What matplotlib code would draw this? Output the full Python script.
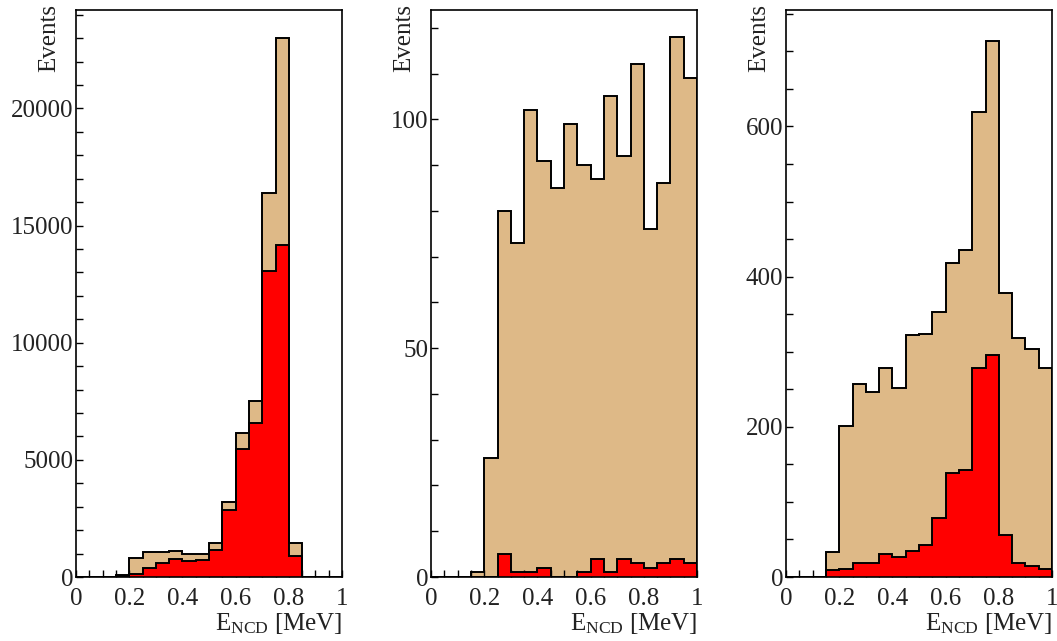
import matplotlib
matplotlib.use("Agg")
import matplotlib.pyplot as plt
import numpy as np
from matplotlib.ticker import MultipleLocator

plt.rcParams['font.family'] = ['Liberation Serif', 'DejaVu Serif']
plt.rcParams['mathtext.fontset'] = 'custom'
plt.rcParams['mathtext.rm'] = 'Liberation Serif'
plt.rcParams['mathtext.default'] = 'regular'

# bin edges (MeV), 20 bins of 0.05
bin_edges = [round(0.05 * i, 2) for i in range(21)]

# Panel 1
total1 = [0, 0, 0, 70, 806, 1050, 1050, 1103, 981, 981, 1454, 3205, 6147, 7495, 16390, 23000, 1454, 0, 0, 0]
red1 = [0, 0, 0, 35, 140, 403, 595, 770, 665, 718, 1156, 2855, 5482, 6567, 13065, 14150, 876, 0, 0, 0]

# Panel 2
total2 = [0, 0, 0, 1, 26, 80, 73, 102, 91, 85, 99, 90, 87, 105, 92, 112, 76, 86, 118, 109]
red2 = [0, 0, 0, 0, 0, 5, 1, 1, 2, 0, 0, 1, 4, 1, 4, 3, 2, 3, 4, 3]

# Panel 3
total3 = [0, 0, 0, 33, 201, 257, 247, 278, 252, 322, 324, 353, 418, 435, 619, 714, 378, 318, 303, 278]
red3 = [0, 0, 0, 9, 10, 18, 18, 30, 27, 35, 43, 79, 139, 143, 278, 295, 56, 18, 14, 11]

x_ticks = [0, 0.2, 0.4, 0.6, 0.8, 1.0]
x_ticklabels = ['0', '0.2', '0.4', '0.6', '0.8', '1']

panels = [
    dict(total=total1, red=red1, ylim=24200, minor=1000,
         yticks=[0, 5000, 10000, 15000, 20000]),
    dict(total=total2, red=red2, ylim=123.9, minor=10,
         yticks=[0, 50, 100]),
    dict(total=total3, red=red3, ylim=755, minor=50,
         yticks=[0, 200, 400, 600]),
]

W, H = 1057, 641
fig = plt.figure(figsize=(W / 100, H / 100), dpi=100)
lefts = [76, 431, 786]
aw = 266
top_px, bot_px = 10, 577

tan = '#DEB987'
red = '#FF0000'
fs = 18

for left, p in zip(lefts, panels):
    ax = fig.add_axes([left / W, (H - bot_px) / H, aw / W, (bot_px - top_px) / H])
    edges = np.array(bin_edges)
    ax.stairs(p['total'], edges, fill=True, color=tan, zorder=1)
    ax.stairs(p['red'], edges, fill=True, color=red, zorder=2)
    ax.stairs(p['red'], edges, color='black', linewidth=1.4, zorder=3)
    ax.stairs(p['total'], edges, color='black', linewidth=1.4, zorder=4)

    ax.set_xlim(0, 1)
    ax.set_ylim(0, p['ylim'])
    ax.set_xticks(x_ticks)
    ax.set_xticklabels(x_ticklabels)
    ax.xaxis.set_minor_locator(MultipleLocator(0.05))
    ax.set_yticks(p['yticks'])
    ax.yaxis.set_minor_locator(MultipleLocator(p['minor']))

    ax.tick_params(which='both', direction='in', top=False, right=False,
                   width=1.0, length=5, labelsize=fs, labelcolor='#222222')
    ax.tick_params(axis='x', which='both', pad=8)
    ax.tick_params(axis='y', which='both', pad=2)
    for s in ax.spines.values():
        s.set_linewidth(1.2)
        s.set_zorder(5)

    ax.set_ylabel('Events', fontsize=fs, loc='top', color='#222222')
    ax.yaxis.set_label_coords(-16 / aw, 1.01)
    ax.set_xlabel(r'E$_{NCD}$ [MeV]', fontsize=fs, loc='right', labelpad=1,
                  color='#222222')

fig.savefig('out.png', dpi=100)
